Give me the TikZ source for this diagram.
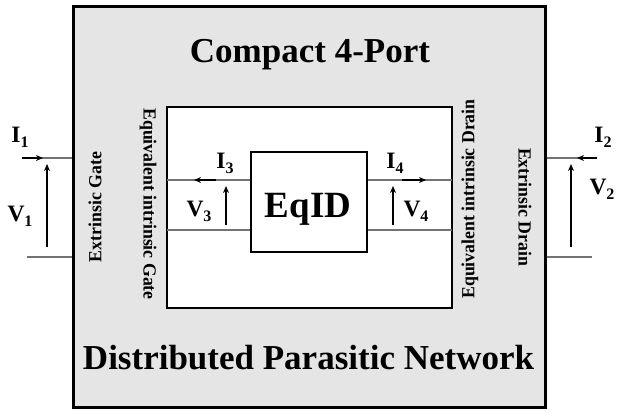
\documentclass[tikz,border=0pt]{standalone}
\usepackage{fontspec}
\setmainfont{Liberation Serif}
\usetikzlibrary{arrows.meta}
\newcommand{\lbl}[2]{#1\raisebox{-5pt}{\fontsize{16}{16}\selectfont #2}}
\tikzset{
  box/.style={draw=black, rectangle, inner sep=0pt},
  term/.style={draw=gray!90!black, line width=2.8pt},
  arr/.style={draw=black, line width=1.9pt, -{Stealth[length=7pt,width=6pt]}},
  sym/.style={font=\fontsize{23.5}{23.5}\selectfont\bfseries, inner sep=0pt},
  vlabel/.style={font=\fontsize{18.5}{18.5}\selectfont\bfseries, inner sep=0pt},
  title/.style={font=\fontsize{35}{35}\selectfont\bfseries, inner sep=0pt, anchor=base},
}
\begin{document}
\begin{tikzpicture}[x=1pt,y=-1pt]
\useasboundingbox (0,0) rectangle (617,412);
% boxes
\node[box, fill=black!10, line width=3pt, minimum width=472pt, minimum height=400pt] (outer) at (309,207) {};
\node[box, fill=white, line width=2.8pt, minimum width=285pt, minimum height=201pt] (inner) at (309.5,207.5) {};
\node[box, fill=white, line width=2.8pt, minimum width=116pt, minimum height=100pt] (eqid) at (309,202) {};
\node[font=\fontsize{37}{37}\selectfont\bfseries, inner sep=0pt, anchor=base] (eqt) at (308,217) {EqID};
% titles
\node[title] (t1) at (310,63) {Compact 4-Port};
\node[title] (t2) at (308.5,369) {Distributed Parasitic Network};
% vertical labels
\node[vlabel, rotate=90, xscale=0.96] (eg) at (95,207) {Extrinsic Gate};
\node[vlabel, rotate=-90, xscale=0.96] (ieg) at (148,204) {Equivalent intrinsic Gate};
\node[vlabel, rotate=90, xscale=0.96] (ied) at (470,199) {Equivalent intrinsic Drain};
\node[vlabel, rotate=-90, xscale=0.96] (ed) at (525,207) {Extrinsic Drain};
% outer terminals
\coordinate (l1) at (22,158);
\coordinate (l2) at (27,257);
\coordinate (r1) at (597,158);
\coordinate (r2) at (592,257);
\draw[term] (l1) -- (l1 -| outer.west);
\draw[term] (l2) -- (l2 -| outer.west);
\draw[term] (r1) -- (r1 -| outer.east);
\draw[term] (r2) -- (r2 -| outer.east);
% inner terminals
\coordinate (a1) at (167,180);
\coordinate (a2) at (167,230);
\coordinate (b1) at (452,180);
\coordinate (b2) at (452,230);
\draw[term] (a1) -- (a1 -| eqid.west);
\draw[term] (a2) -- (a2 -| eqid.west);
\draw[term] (b1) -- (b1 -| eqid.east);
\draw[term] (b2) -- (b2 -| eqid.east);
% arrows
\coordinate (i1s) at (22,158); \coordinate (i1e) at (43,158);
\coordinate (v1s) at (47,247); \coordinate (v1e) at (47,164);
\coordinate (i2s) at (597,158); \coordinate (i2e) at (577,158);
\coordinate (v2s) at (571,247); \coordinate (v2e) at (571,164);
\coordinate (i3s) at (216,180); \coordinate (i3e) at (194,180);
\coordinate (v3s) at (226,225); \coordinate (v3e) at (226,186);
\coordinate (i4s) at (402,180); \coordinate (i4e) at (426,180);
\coordinate (v4s) at (393,225); \coordinate (v4e) at (393,186);
\draw[arr] (i1s) -- (i1e);
\draw[arr] (v1s) -- (v1e);
\draw[arr] (i2s) -- (i2e);
\draw[arr] (v2s) -- (v2e);
\draw[arr] (i3s) -- (i3e);
\draw[arr] (v3s) -- (v3e);
\draw[arr] (i4s) -- (i4e);
\draw[arr] (v4s) -- (v4e);
% symbol labels
\node[sym] (I1) at (20,137) {\lbl{I}{1}};
\node[sym] (V1) at (20,216) {\lbl{V}{1}};
\node[sym] (I2) at (603,137) {\lbl{I}{2}};
\node[sym] (V2) at (602,189) {\lbl{V}{2}};
\node[sym] (I3) at (225,163) {\lbl{I}{3}};
\node[sym] (V3) at (199,211) {\lbl{V}{3}};
\node[sym] (I4) at (395,163) {\lbl{I}{4}};
\node[sym] (V4) at (416,211) {\lbl{V}{4}};
\end{tikzpicture}
\end{document}
